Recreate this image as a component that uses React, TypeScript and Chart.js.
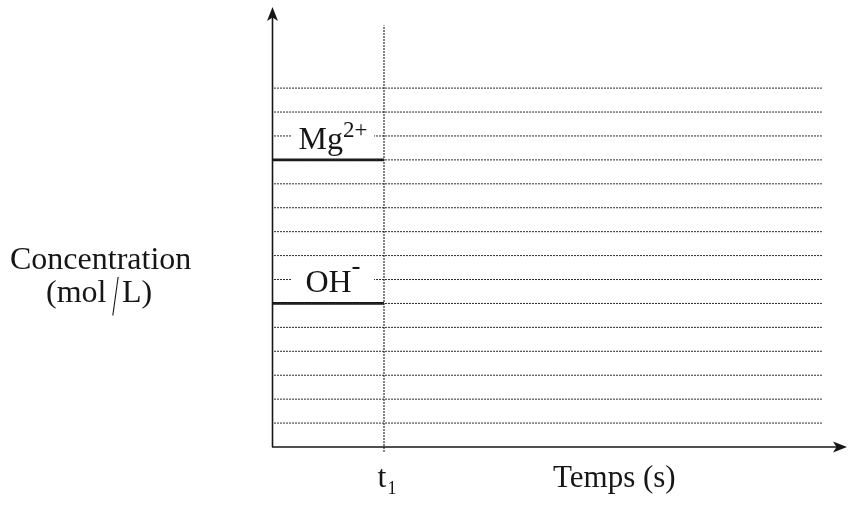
import React, { useEffect, useRef } from "react";
import { Chart, registerables } from "chart.js";

Chart.register(...registerables);

// ---- data ----
const T1 = 1; // time marker t1
const GRID_LEVELS = [1, 2, 3, 4, 5, 6, 7, 8, 9, 10, 11, 12, 13, 14, 15];
const GRID_START = 0.018;
const GRID_END = 4.91;
const X_MAX = 5.134;
const Y_MAX = 18.39;
const ION_NAMES = ["Mg", "OH"];
const ION_CHARGES = ["2+", "-"];
const ION_CONCENTRATIONS = [12, 6];
const T1_LINE_RANGE = [-0.2, 17.63];
const Y_TITLE = ["Concentration", "(mol", "/", "L)"];
const X_TITLE = "Temps (s)";
const T1_LABEL = ["t", "1"];

const FONT = "'Liberation Serif', 'Times New Roman', serif";
const INK = "#161616";

export default function App() {
  const ref = useRef<HTMLCanvasElement | null>(null);

  useEffect(() => {
    const canvas = ref.current;
    if (!canvas) return;

    const datasets: any[] = [];
    GRID_LEVELS.forEach((lv) => {
      datasets.push({
        data: [
          { x: GRID_START, y: lv },
          { x: GRID_END, y: lv },
        ],
        borderColor: "#2a2a2a",
        borderWidth: 1,
        borderDash: [2, 1],
        pointRadius: 0,
        showLine: true,
      });
    });
    datasets.push({
      data: [
        { x: T1, y: T1_LINE_RANGE[0] },
        { x: T1, y: T1_LINE_RANGE[1] },
      ],
      borderColor: "#222",
      borderWidth: 1.5,
      borderDash: [1.5, 1.5],
      pointRadius: 0,
      showLine: true,
      clip: false,
    });
    ION_CONCENTRATIONS.forEach((c) => {
      datasets.push({
        data: [
          { x: 0, y: c },
          { x: T1, y: c },
        ],
        borderColor: INK,
        borderWidth: 2.8,
        pointRadius: 0,
        showLine: true,
      });
    });

    const decor = {
      id: "decor",
      afterDatasetsDraw(chart: any) {
        const ctx = chart.ctx as CanvasRenderingContext2D;
        const xs = chart.scales.x;
        const ys = chart.scales.y;
        const ca = chart.chartArea;
        const x0 = xs.getPixelForValue(0);
        const y0 = ys.getPixelForValue(0);
        ctx.save();
        ctx.fillStyle = INK;
        ctx.strokeStyle = INK;

        // axes
        ctx.lineWidth = 1.6;
        ctx.beginPath();
        ctx.moveTo(x0, y0);
        ctx.lineTo(ca.right - 8, y0);
        ctx.moveTo(x0 + 0.5, y0);
        ctx.lineTo(x0 + 0.5, ca.top + 8);
        ctx.stroke();
        // x arrow
        const tx = ca.right;
        ctx.beginPath();
        ctx.moveTo(tx, y0);
        ctx.lineTo(tx - 14, y0 - 5.5);
        ctx.lineTo(tx - 10.5, y0);
        ctx.lineTo(tx - 14, y0 + 5.5);
        ctx.closePath();
        ctx.fill();
        // y arrow
        const ty = ca.top;
        const ax = x0 + 0.5;
        ctx.beginPath();
        ctx.moveTo(ax, ty);
        ctx.lineTo(ax - 5.5, ty + 14);
        ctx.lineTo(ax, ty + 10.5);
        ctx.lineTo(ax + 5.5, ty + 14);
        ctx.closePath();
        ctx.fill();

        // ion labels
        const xt = xs.getPixelForValue(T1);
        const center = (x0 + xt) / 2 + 5;
        ION_NAMES.forEach((name, i) => {
          const yc = ys.getPixelForValue(ION_CONCENTRATIONS[i]);
          const base = yc - 11;
          const mainFont = `32px ${FONT}`;
          const supFont = i === 0 ? `23px ${FONT}` : `27px ${FONT}`;
          ctx.font = mainFont;
          const wMain = ctx.measureText(name).width;
          ctx.font = supFont;
          const wSup = ctx.measureText(ION_CHARGES[i]).width;
          const total = wMain + wSup;
          const start = center - total / 2;
          ctx.fillStyle = "#ffffff";
          ctx.fillRect(center - 41, base - 30, 82, 34);
          ctx.fillStyle = INK;
          ctx.textAlign = "left";
          ctx.textBaseline = "alphabetic";
          ctx.font = mainFont;
          ctx.fillText(name, start, base);
          ctx.font = supFont;
          ctx.fillText(ION_CHARGES[i], start + wMain, i === 0 ? base - 12 : base - 18);
        });

        // y title
        ctx.font = `32px ${FONT}`;
        ctx.textAlign = "left";
        ctx.fillText(Y_TITLE[0], 10, 269);
        ctx.fillText(Y_TITLE[1], 46, 302);
        ctx.fillText(Y_TITLE[3], 122, 302);
        ctx.save();
        ctx.translate(115.5, 314.5);
        ctx.scale(0.4, 1);
        ctx.font = `58px ${FONT}`;
        ctx.textAlign = "center";
        ctx.fillText(Y_TITLE[2], 0, 0);
        ctx.restore();

        // t1
        ctx.font = `32px ${FONT}`;
        ctx.textAlign = "left";
        ctx.fillText(T1_LABEL[0], xt - 6.5, 487);
        ctx.font = `18px ${FONT}`;
        ctx.fillText(T1_LABEL[1], xt + 3.5, 494);

        // x title
        ctx.font = `31px ${FONT}`;
        ctx.fillText(X_TITLE, 553, 487);
        ctx.restore();
      },
    };

    const chart = new Chart(canvas, {
      type: "scatter",
      data: { datasets },
      options: {
        animation: false,
        responsive: false,
        devicePixelRatio: 1,
        layout: { padding: { left: 272, right: 4, top: 7, bottom: 61 } },
        plugins: { legend: { display: false }, tooltip: { enabled: false } },
        scales: {
          x: { type: "linear", min: 0, max: X_MAX, display: false },
          y: { type: "linear", min: 0, max: Y_MAX, display: false },
        },
      },
      plugins: [decor],
    });
    return () => chart.destroy();
  }, []);

  return (
    <div style={{ position: "absolute", left: 0, top: 0, width: 851, height: 508, background: "#fff" }}>
      <canvas ref={ref} width={851} height={508} />
    </div>
  );
}
